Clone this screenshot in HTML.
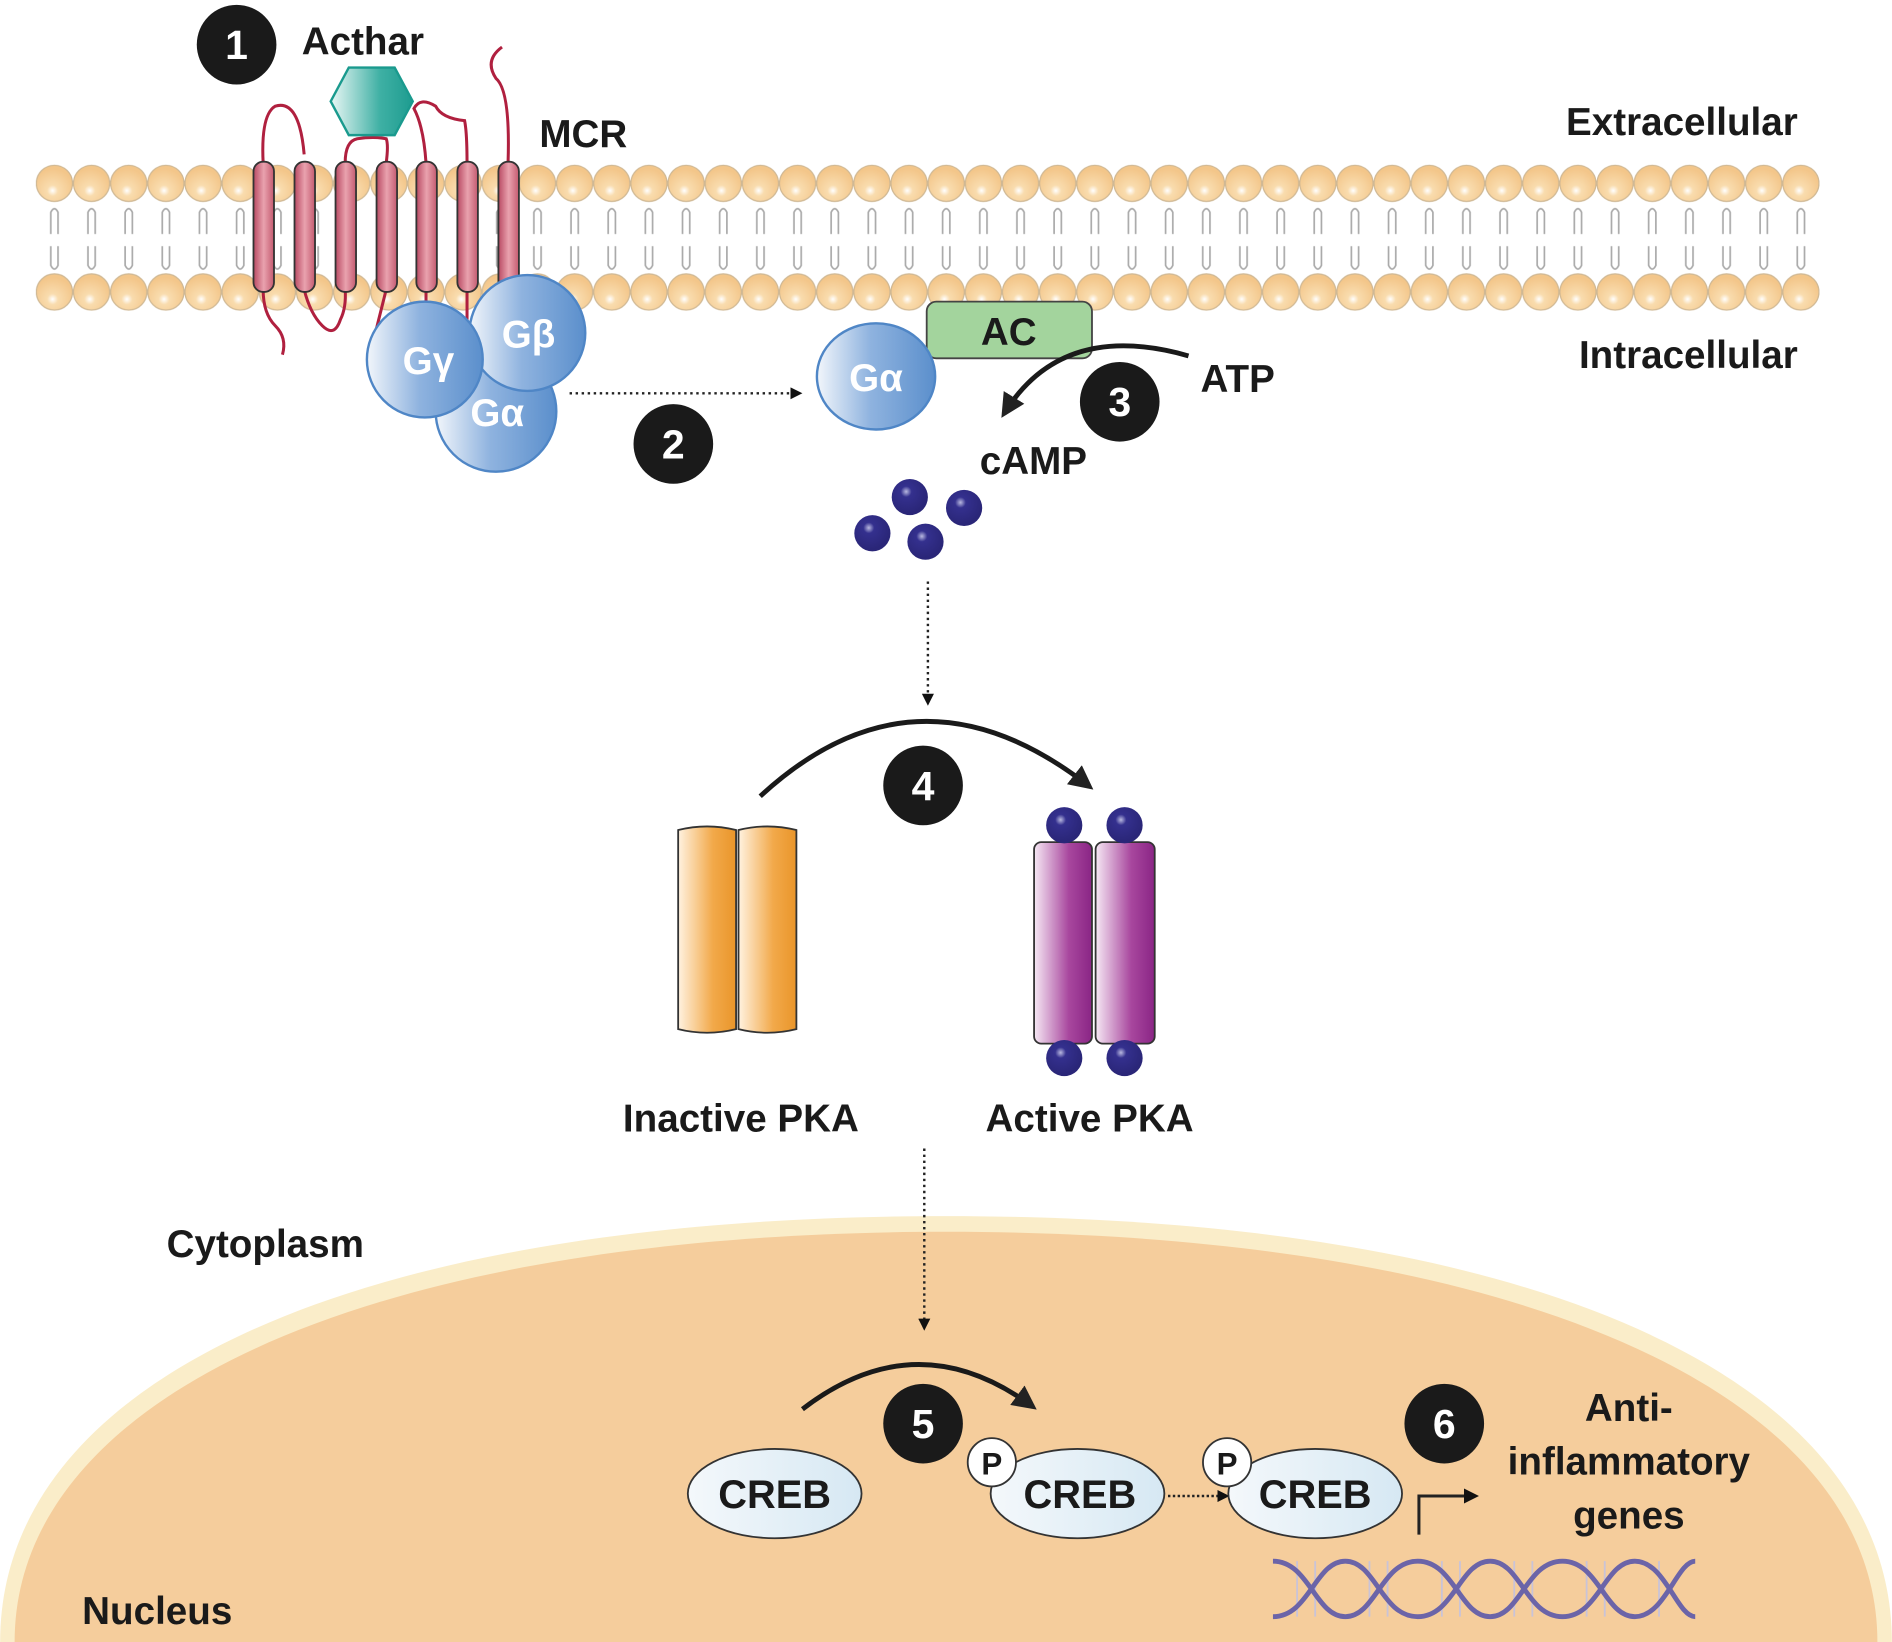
<!DOCTYPE html>
<html><head><meta charset="utf-8"><style>html,body{margin:0;padding:0;background:#fff;width:1892px;height:1642px;overflow:hidden}svg{display:block}text{font-family:"Liberation Sans",sans-serif;font-weight:bold}</style></head>
<body>
<svg width="1892" height="1642" viewBox="0 0 1568 1361" xmlns="http://www.w3.org/2000/svg">
<defs>
<radialGradient id="hd" cx="0.45" cy="0.7" r="0.6"><stop offset="0" stop-color="#fff"/><stop offset="0.25" stop-color="#f9dcae"/><stop offset="1" stop-color="#f3c68a"/></radialGradient>
<pattern id="heads" patternUnits="userSpaceOnUse" x="29.6" y="0" width="30.8" height="400">
<circle cx="15.4" cy="152" r="15" fill="url(#hd)" stroke="#cfb894" stroke-width="1"/>
<circle cx="15.4" cy="242" r="15" fill="url(#hd)" stroke="#cfb894" stroke-width="1"/>
<path d="M12.4 194 V176 q3 -6 6 0 V194 M12.4 204 V220 q3 6 6 0 V204" fill="none" stroke="#aaa" stroke-width="1.4"/>
</pattern>
<linearGradient id="hel" x1="0" x2="1"><stop offset="0" stop-color="#b94a63"/><stop offset="0.5" stop-color="#e9a2ae"/><stop offset="1" stop-color="#c45a70"/></linearGradient>
<linearGradient id="blue" x1="0" x2="1"><stop offset="0" stop-color="#f2f6fb"/><stop offset="0.45" stop-color="#8fb3df"/><stop offset="1" stop-color="#5b8fcc"/></linearGradient>
<linearGradient id="hex" x1="0" x2="1"><stop offset="0" stop-color="#e9f7f5"/><stop offset="0.6" stop-color="#3fb0a4"/><stop offset="1" stop-color="#1d9c90"/></linearGradient>
<linearGradient id="org" x1="0" x2="1"><stop offset="0" stop-color="#fff2e0"/><stop offset="0.6" stop-color="#f2a94a"/><stop offset="1" stop-color="#e9952a"/></linearGradient>
<linearGradient id="pur" x1="0" x2="1"><stop offset="0" stop-color="#f6e8f4"/><stop offset="0.6" stop-color="#a8479e"/><stop offset="1" stop-color="#8a2585"/></linearGradient>
<radialGradient id="dot" cx="0.4" cy="0.35" r="0.6"><stop offset="0" stop-color="#b9b9e0"/><stop offset="0.25" stop-color="#34308e"/><stop offset="1" stop-color="#2a2678"/></radialGradient>
<linearGradient id="creb" x1="0" x2="1"><stop offset="0" stop-color="#f4f8fb"/><stop offset="1" stop-color="#d6e8f3"/></linearGradient>
<marker id="ah" viewBox="0 0 10 10" refX="8" refY="5" markerWidth="5" markerHeight="5" orient="auto"><path d="M0 0 L10 5 L0 10 z" fill="#222"/></marker>
<marker id="bh" viewBox="0 0 10 10" refX="7" refY="5" markerWidth="5" markerHeight="5" orient="auto"><path d="M0 0 L10 5 L0 10 z" fill="#111"/></marker>
</defs>

<!-- nucleus -->
<path d="M0 1361 C0 1140 300 1008 784 1008 C1268 1008 1568 1140 1568 1361 Z" fill="#faedc9"/>
<path d="M12 1361 C12 1155 310 1021 784 1021 C1258 1021 1556 1155 1556 1361 Z" fill="#f5cd9c"/>

<!-- membrane -->
<rect x="29.6" y="130" width="1478.4" height="130" fill="url(#heads)"/>

<!-- receptor loops -->
<g fill="none" stroke="#b0203f" stroke-width="2.5">
<path d="M218 135 q-2 -40 10 -47 q20 -6 24 40"/>
<path d="M286 135 q0 -18 10 -20 q14 -2 24 0 q2 5 0 20"/>
<path d="M353 135 q-2 -30 -10 -45 q5 -10 18 -2 q5 10 24 12 q2 10 2 35"/>
<path d="M421 135 q2 -60 -10 -70 q-10 -15 5 -26"/>
<path d="M218 240 q0 20 10 30 q10 10 6 24"/>
<path d="M252 240 q5 20 15 30 q10 10 15 -5 q5 -10 4 -25"/>
<path d="M320 240 q-5 20 -10 40"/>
<path d="M353 240 v25"/><path d="M387 240 v25"/>
</g>
<g fill="url(#hel)" stroke="#333" stroke-width="1.5">
<rect x="210" y="134" width="17" height="108" rx="8"/>
<rect x="244" y="134" width="17" height="108" rx="8"/>
<rect x="278" y="134" width="17" height="108" rx="8"/>
<rect x="312" y="134" width="17" height="108" rx="8"/>
<rect x="345" y="134" width="17" height="108" rx="8"/>
<rect x="379" y="134" width="17" height="108" rx="8"/>
<rect x="413" y="134" width="17" height="108" rx="8"/>
</g>
<polygon points="289,56 327,56 342,84 327,112 289,112 274,84" fill="url(#hex)" stroke="#1a9a8e" stroke-width="2"/>

<!-- number circles -->
<g fill="#1a1a1a">
<circle cx="196" cy="37" r="33"/><circle cx="558" cy="368" r="33"/><circle cx="928" cy="333" r="33"/>
<circle cx="765" cy="651" r="33"/><circle cx="765" cy="1180" r="33"/><circle cx="1197" cy="1180" r="33"/>
</g>
<g fill="#fff" font-size="34" text-anchor="middle">
<text x="196" y="49">1</text><text x="558" y="380">2</text><text x="928" y="345">3</text>
<text x="765" y="663">4</text><text x="765" y="1192">5</text><text x="1197" y="1192">6</text>
</g>

<!-- labels -->
<g fill="#1a1a1a" font-size="32">
<text x="250" y="45">Acthar</text>
<text x="447" y="122">MCR</text>
<text x="1490" y="112" text-anchor="end">Extracellular</text>
<text x="1490" y="305" text-anchor="end">Intracellular</text>
<text x="995" y="325">ATP</text>
<text x="812" y="393">cAMP</text>
<text x="614" y="938" text-anchor="middle">Inactive PKA</text>
<text x="903" y="938" text-anchor="middle">Active PKA</text>
<text x="138" y="1042">Cytoplasm</text>
<text x="68" y="1346">Nucleus</text>
<text x="1350" y="1178" text-anchor="middle">Anti-</text>
<text x="1350" y="1222" text-anchor="middle">inflammatory</text>
<text x="1350" y="1267" text-anchor="middle">genes</text>
</g>

<!-- G proteins -->
<g stroke="#4f86c6" stroke-width="2">
<circle cx="411" cy="341" r="50" fill="url(#blue)"/>
<circle cx="437" cy="276" r="48" fill="url(#blue)"/>
<circle cx="352" cy="298" r="48" fill="url(#blue)"/>
</g>
<rect x="768" y="250" width="137" height="47" rx="8" fill="#a3d49d" stroke="#444" stroke-width="1.5"/>
<ellipse cx="726" cy="312" rx="49" ry="44" fill="url(#blue)" stroke="#4f86c6" stroke-width="2"/>
<g fill="#fff" font-size="32" text-anchor="middle">
<text x="355" y="310">Gγ</text><text x="438" y="288">Gβ</text><text x="412" y="353">Gα</text><text x="726" y="324">Gα</text>
</g>
<text x="836" y="286" font-size="32" text-anchor="middle" fill="#1a1a1a">AC</text>

<!-- arrows -->
<line x1="472" y1="326" x2="662" y2="326" stroke="#222" stroke-width="2" stroke-dasharray="2,3" marker-end="url(#bh)"/>
<path d="M985 295 Q880 265 832 343" fill="none" stroke="#1a1a1a" stroke-width="4" marker-end="url(#ah)"/>
<line x1="769" y1="482" x2="769" y2="582" stroke="#222" stroke-width="2" stroke-dasharray="2,3" marker-end="url(#bh)"/>
<path d="M630 660 Q760 540 903 652" fill="none" stroke="#1a1a1a" stroke-width="4" marker-end="url(#ah)"/>
<line x1="766" y1="952" x2="766" y2="1100" stroke="#222" stroke-width="2" stroke-dasharray="2,3" marker-end="url(#bh)"/>
<path d="M665 1168 Q760 1095 856 1166" fill="none" stroke="#1a1a1a" stroke-width="4" marker-end="url(#ah)"/>
<line x1="968" y1="1240" x2="1016" y2="1240" stroke="#222" stroke-width="2" stroke-dasharray="2,2" marker-end="url(#bh)"/>
<path d="M1176 1272 V1240 H1222" fill="none" stroke="#222" stroke-width="2.5" marker-end="url(#bh)"/>

<!-- cAMP dots -->
<g fill="url(#dot)">
<circle cx="754" cy="412" r="15"/><circle cx="799" cy="421" r="15"/><circle cx="723" cy="442" r="15"/><circle cx="767" cy="449" r="15"/>
</g>

<!-- PKA -->
<g stroke="#333" stroke-width="1.5">
<path d="M562 688 q24 -6 48 0 V853 q-24 6 -48 0 z" fill="url(#org)"/>
<path d="M612 688 q24 -6 48 0 V853 q-24 6 -48 0 z" fill="url(#org)"/>
<rect x="857" y="698" width="48" height="167" rx="6" fill="url(#pur)"/>
<rect x="908" y="698" width="49" height="167" rx="6" fill="url(#pur)"/>
</g>
<g fill="url(#dot)">
<circle cx="882" cy="684" r="15"/><circle cx="932" cy="684" r="15"/><circle cx="882" cy="877" r="15"/><circle cx="932" cy="877" r="15"/>
</g>

<!-- CREB -->
<g stroke="#333" stroke-width="1.5" fill="url(#creb)">
<ellipse cx="642" cy="1238" rx="72" ry="37"/>
<ellipse cx="893" cy="1238" rx="72" ry="37"/>
<ellipse cx="1090" cy="1238" rx="72" ry="37"/>
<circle cx="822" cy="1212" r="20" fill="#fff"/>
<circle cx="1017" cy="1212" r="20" fill="#fff"/>
</g>
<g fill="#1a1a1a" text-anchor="middle">
<text x="642" y="1250" font-size="33">CREB</text><text x="895" y="1250" font-size="33">CREB</text><text x="1090" y="1250" font-size="33">CREB</text>
<text x="822" y="1222" font-size="26" font-weight="normal">P</text><text x="1017" y="1222" font-size="26" font-weight="normal">P</text>
</g>

<!-- DNA -->
<g stroke="#c9c3d8" stroke-width="1.5">
<path d="M1075 1294 V1340 M1090 1294 V1340 M1135 1294 V1340 M1150 1294 V1340 M1195 1294 V1340 M1210 1294 V1340 M1255 1294 V1340 M1270 1294 V1340 M1315 1294 V1340 M1330 1294 V1340 M1375 1294 V1340"/>
</g>
<g fill="none" stroke="#6b64a8" stroke-width="4">
<path d="M1055 1340 C1085 1340 1090 1294 1115 1294 C1140 1294 1145 1340 1175 1340 C1205 1340 1210 1294 1235 1294 C1260 1294 1265 1340 1295 1340 C1325 1340 1330 1294 1355 1294 C1380 1294 1390 1340 1405 1340"/>
<path d="M1055 1294 C1085 1294 1090 1340 1115 1340 C1140 1340 1145 1294 1175 1294 C1205 1294 1210 1340 1235 1340 C1260 1340 1265 1294 1295 1294 C1325 1294 1330 1340 1355 1340 C1380 1340 1390 1294 1405 1294"/>
</g>
</svg>
</body></html>
